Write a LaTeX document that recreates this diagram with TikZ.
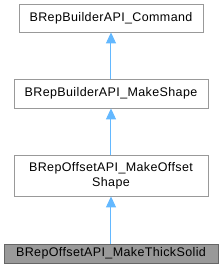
\documentclass[tikz,border=0pt]{standalone}
\usepackage{fontspec}
\setmainfont{Liberation Sans}[LetterSpace=3]
\usetikzlibrary{arrows.meta}
\definecolor{edgeblue}{HTML}{63B8FF}
\definecolor{boxborder}{HTML}{999999}
\definecolor{curfill}{HTML}{999999}
\definecolor{curborder}{HTML}{666666}
\tikzset{
  cls/.style={draw=boxborder, fill=white, line width=0.8pt, inner sep=0pt, align=center, font=\fontsize{12.5}{15}\selectfont},
  curcls/.style={cls, draw=curborder, fill=curfill},
  inh/.style={draw=edgeblue, line width=1pt, -{Triangle[length=11pt,width=10pt]}}
}
\begin{document}
\begin{tikzpicture}[x=1pt,y=-1pt]
\useasboundingbox (0,0) rectangle (222,277);
\node[cls, minimum width=184pt, minimum height=28pt] (a) at (111,18) {BRepBuilderAPI\_Command};
\node[cls, minimum width=194pt, minimum height=29pt] (b) at (111,93.5) {BRepBuilderAPI\_MakeShape};
\node[cls, minimum width=194pt, minimum height=41pt] (c) at (111,175.5) {BRepOffsetAPI\_MakeOffset\\Shape};
\node[curcls, minimum width=214pt, minimum height=19pt] (d) at (111,253.5) {BRepOffsetAPI\_MakeThickSolid};
\draw[inh] (b) -- (a);
\draw[inh] (c) -- (b);
\draw[inh] (d) -- (c);
\end{tikzpicture}
\end{document}
